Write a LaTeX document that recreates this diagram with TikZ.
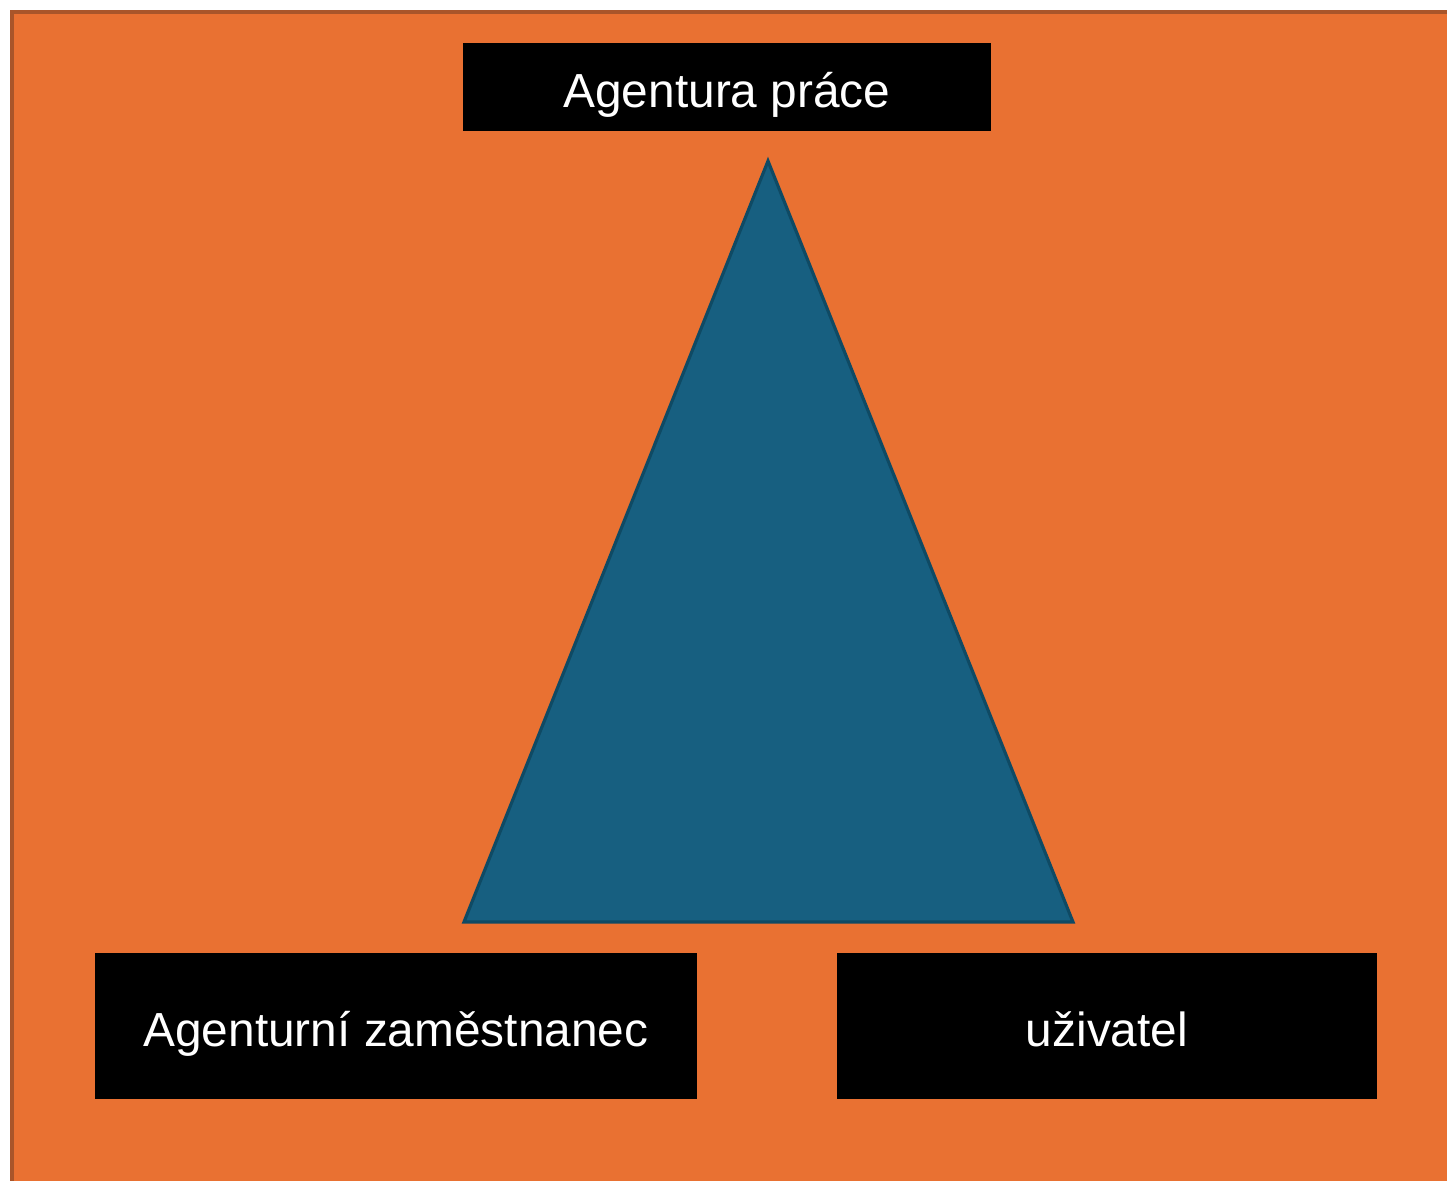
\documentclass[tikz,border=0pt]{standalone}
\usepackage{fontspec}
\setmainfont{Liberation Sans}
\definecolor{slideorange}{HTML}{E97132}
\definecolor{slideedge}{HTML}{A9552A}
\definecolor{triblue}{HTML}{175F80}
\definecolor{triedge}{HTML}{0F4A64}
\tikzset{
  rolebox/.style={shape=rectangle, fill=black, text=white, inner sep=0pt,
    text height=0.4cm, text depth=0cm,
    font=\fontsize{13.6}{16}\selectfont},
}

\begin{document}
\begin{tikzpicture}[x=0.01cm, y=-0.01cm]
\useasboundingbox (0,0) rectangle (1447,1181);
\clip (0,0) rectangle (1447,1181);
\fill[white] (0,0) rectangle (1447,1181);
\draw[line width=1.2pt, draw=slideedge, fill=slideorange] (12,12) rectangle (1470,1200);
\draw[line width=0.9pt, draw=triedge, fill=triblue] (768,161) -- (1073,922) -- (464,922) -- cycle;
\node[rolebox, minimum width=5.28cm, minimum height=0.88cm] (agentura) at (727,87) {Agentura práce};
\node[rolebox, minimum width=6.02cm, minimum height=1.46cm] (zamestnanec) at (396,1026) {Agenturní zaměstnanec};
\node[rolebox, minimum width=5.40cm, minimum height=1.46cm] (uzivatel) at (1107,1026) {uživatel};
\end{tikzpicture}
\end{document}
